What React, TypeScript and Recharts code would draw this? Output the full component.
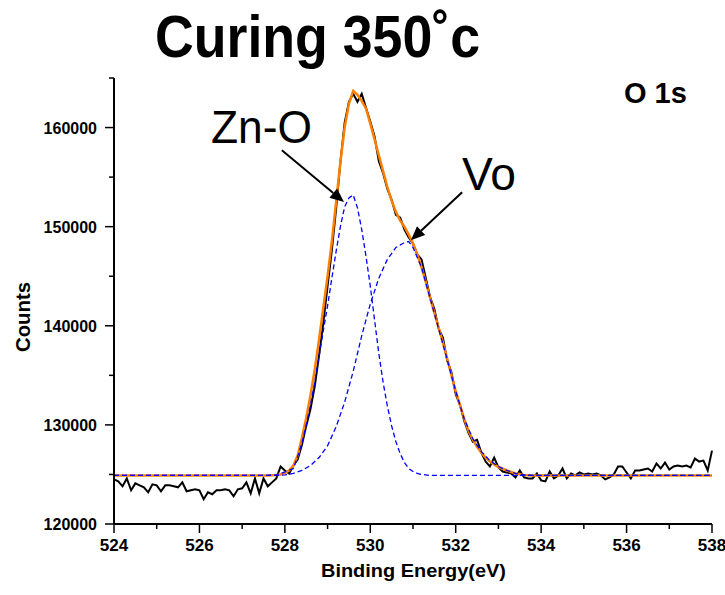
import { LineChart, Line, XAxis, YAxis, ReferenceLine } from "recharts";

const FONT = "'Liberation Sans', Arial, sans-serif";

// measured spectrum, one point every 0.1 eV from 524 to 538
const ENERGY_START = 524;
const ENERGY_STEP = 0.1;
const counts = [
  124500, 124300, 123800, 124600, 123400, 124100, 123900, 123700, 123200, 124000,
  123900, 123300, 123900, 123900, 123800, 123700, 124200, 123300, 123400, 123500,
  123400, 122500, 123200, 123000, 123400, 123400, 123500, 123400, 122800, 123500,
  123600, 124200, 123100, 124600, 123100, 124600, 123800, 124200, 124600, 125800,
  125400, 125100, 125900, 126500, 128000, 129900, 131600, 133900, 137000, 140300,
  144000, 147600, 151800, 156500, 160500, 162600, 163400, 162600, 163400, 162000,
  160600, 159100, 156600, 155400, 153800, 152700, 151200, 150900, 149700, 148900,
  148300, 147200, 146700, 144800, 142900, 141700, 139700, 138800, 136500, 135300,
  133100, 132000, 130400, 129200, 128300, 128500, 127200, 126300, 125800, 126700,
  125700, 125300, 125200, 125100, 124700, 125400, 124700, 124600, 124600, 125100,
  124400, 124300, 125300, 124600, 124900, 125600, 124600, 125100, 124900, 125200,
  125000, 125100, 125000, 125100, 124900, 124500, 124700, 125000, 125800, 125800,
  125200, 124600, 125400, 125400, 125500, 125600, 125300, 126100, 125600, 126200,
  125500, 125800, 125900, 125800, 125900, 125700, 126600, 126300, 126400, 125400,
  127400,
];

// fitted envelope [eV, counts]
const envelope: [number, number][] = [
  [524, 124900], [527.6, 124900], [527.8, 124950], [527.9, 125000], [528.0, 125150],
  [528.1, 125400], [528.2, 125900], [528.3, 126900], [528.4, 128700], [528.5, 130700],
  [528.6, 133000], [528.7, 135600], [528.8, 138600], [528.9, 141800], [529.0, 145000],
  [529.1, 148500], [529.2, 152500], [529.3, 156500], [529.4, 160000], [529.5, 162400],
  [529.6, 163700], [529.7, 163300], [529.8, 162700], [529.9, 161900], [530.0, 160400],
  [530.1, 158800], [530.2, 157200], [530.3, 155600], [530.4, 154000], [530.5, 152600],
  [530.6, 151500], [530.7, 150600], [530.8, 150000], [530.9, 149200], [531.0, 148300],
  [531.1, 147200], [531.2, 145900], [531.3, 144400], [531.4, 142800], [531.5, 141300],
  [531.6, 139800], [531.7, 138300], [531.8, 136700], [531.9, 135000], [532.0, 133400],
  [532.1, 132000], [532.2, 130600], [532.3, 129400], [532.4, 128500], [532.5, 127800],
  [532.6, 127200], [532.7, 126700], [532.8, 126300], [532.9, 126000], [533.0, 125750],
  [533.2, 125400], [533.4, 125100], [533.6, 124950], [533.8, 124900], [538, 124900],
];

// Zn-O component
const znO: [number, number][] = [
  [524, 124900], [527.6, 124900], [527.8, 124950], [528.0, 125250], [528.2, 125600],
  [528.3, 126800], [528.4, 128200], [528.5, 130000], [528.6, 132000], [528.7, 134300],
  [528.8, 136900], [528.9, 139500], [529.0, 142000], [529.1, 144800], [529.2, 147500],
  [529.3, 150000], [529.4, 152000], [529.5, 152900], [529.6, 153200], [529.7, 151900],
  [529.8, 149700], [529.9, 147000], [530.0, 144000], [530.1, 140600], [530.2, 137200],
  [530.3, 134300], [530.4, 131900], [530.5, 129900], [530.6, 128300], [530.7, 127100],
  [530.8, 126200], [530.9, 125600], [531.0, 125300], [531.1, 125100], [531.2, 125000],
  [531.4, 124900], [538, 124900],
];

// Vo (oxygen vacancy) component
const vo: [number, number][] = [
  [524, 124900], [527.8, 124900], [528.0, 124950], [528.2, 125100], [528.4, 125400],
  [528.6, 125900], [528.8, 126700], [529.0, 127900], [529.2, 129800], [529.4, 132300],
  [529.6, 135400], [529.8, 139000], [530.0, 142200], [530.2, 144800], [530.4, 146700],
  [530.6, 147900], [530.8, 148400], [530.9, 148500], [531.0, 147900], [531.2, 145900],
  [531.4, 142800], [531.6, 139700], [531.8, 136600], [532.0, 133400], [532.2, 130600],
  [532.4, 128600], [532.6, 127300], [532.8, 126400], [533.0, 125800], [533.2, 125400],
  [533.4, 125100], [533.6, 124950], [533.8, 124900], [538, 124900],
];

const X_TICKS = [524, 525, 526, 527, 528, 529, 530, 531, 532, 533, 534, 535, 536, 537, 538];
const Y_TICKS = [120000, 125000, 130000, 135000, 140000, 145000, 150000, 155000, 160000, 165000];

// arrow annotations: [tail, tip] in data coords
const ZNO_ARROW = [{ x: 527.93, y: 157700 }, { x: 529.385, y: 152490 }];
const VO_ARROW = [{ x: 532.15, y: 153470 }, { x: 530.95, y: 148630 }];

const key = (e: number) => e.toFixed(1);
const toMap = (pairs: [number, number][]) => new Map(pairs.map(([e, v]) => [key(e), v]));
const envMap = toMap(envelope);
const znoMap = toMap(znO);
const voMap = toMap(vo);

const data = counts.map((c, i) => {
  const e = Math.round((ENERGY_START + i * ENERGY_STEP) * 10) / 10;
  return {
    energy: e,
    counts: c,
    envelope: envMap.get(key(e)),
    zno: znoMap.get(key(e)),
    vo: voMap.get(key(e)),
  };
});

function XTick({ x, y, payload }: any) {
  const major = payload.value % 2 === 0;
  return (
    <g>
      <line x1={x} x2={x} y1={y} y2={y + (major ? 9 : 5)} stroke="#000" strokeWidth={1.5} />
      {major && (
        <text x={x} y={y + 27} textAnchor="middle" fontFamily={FONT} fontWeight="bold" fontSize={17} fill="#000">
          {payload.value}
        </text>
      )}
    </g>
  );
}

function YTick({ x, y, payload }: any) {
  const major = payload.value % 10000 === 0;
  return (
    <g>
      <line x1={x - (major ? 9 : 5)} x2={x} y1={y} y2={y} stroke="#000" strokeWidth={1.5} />
      {major && (
        <text x={x - 17} y={y + 6} textAnchor="end" fontFamily={FONT} fontWeight="bold" fontSize={16} fill="#000">
          {payload.value}
        </text>
      )}
    </g>
  );
}

function Arrow(props: any) {
  const { x1, y1, x2, y2 } = props;
  const ang = Math.atan2(y2 - y1, x2 - x1);
  const len = 14;
  const half = 6;
  const bx = x2 - len * Math.cos(ang);
  const by = y2 - len * Math.sin(ang);
  const px = -Math.sin(ang) * half;
  const py = Math.cos(ang) * half;
  return (
    <g>
      <line x1={x1} y1={y1} x2={bx} y2={by} stroke="#000" strokeWidth={2} />
      <polygon points={`${x2},${y2} ${bx + px},${by + py} ${bx - px},${by - py}`} fill="#000" />
    </g>
  );
}

export default function App() {
  return (
    <div style={{ position: "absolute", left: 0, top: 0, width: 725, height: 595, background: "#fff" }}>
      <LineChart width={725} height={595} data={data} margin={{ top: 78, right: 13, bottom: 0, left: 0 }}>
        <XAxis
          dataKey="energy"
          type="number"
          domain={[524, 538]}
          ticks={X_TICKS}
          height={71}
          tickSize={0}
          tickMargin={0}
          tickLine={false}
          tick={<XTick />}
          axisLine={{ stroke: "#000", strokeWidth: 2 }}
          interval={0}
        />
        <YAxis
          type="number"
          domain={[120000, 165000]}
          ticks={Y_TICKS}
          width={114}
          tickSize={0}
          tickMargin={0}
          tickLine={false}
          tick={<YTick />}
          axisLine={{ stroke: "#000", strokeWidth: 2 }}
          interval={0}
          allowDataOverflow
        />
        <Line dataKey="counts" stroke="#000" strokeWidth={2} dot={false} isAnimationActive={false} type="linear" />
        <Line dataKey="envelope" stroke="#FF8000" strokeWidth={2.5} dot={false} isAnimationActive={false} connectNulls type="linear" />
        <Line dataKey="zno" stroke="#0000FF" strokeWidth={1.3} strokeDasharray="5 3" dot={false} isAnimationActive={false} connectNulls type="linear" />
        <Line dataKey="vo" stroke="#0000FF" strokeWidth={1.3} strokeDasharray="5 3" dot={false} isAnimationActive={false} connectNulls type="linear" />
        <ReferenceLine segment={ZNO_ARROW} shape={Arrow} />
        <ReferenceLine segment={VO_ARROW} shape={Arrow} />
      </LineChart>
      <svg width={725} height={595} style={{ position: "absolute", left: 0, top: 0, pointerEvents: "none" }}>
        <text x={155} y={57} fontFamily={FONT} fontWeight="bold" fontSize={60} textLength={325} lengthAdjust="spacingAndGlyphs" fill="#000">
          Curing 350˚c
        </text>
        <text x={624} y={103} fontFamily={FONT} fontWeight="bold" fontSize={29} fill="#000">
          O 1s
        </text>
        <text x={211} y={143} fontFamily={FONT} fontSize={46} textLength={101} lengthAdjust="spacingAndGlyphs" fill="#000">
          Zn-O
        </text>
        <text x={462} y={190} fontFamily={FONT} fontSize={46} textLength={54} lengthAdjust="spacingAndGlyphs" fill="#000">
          Vo
        </text>
        <text
          x={0}
          y={0}
          transform="translate(30 317) rotate(-90)"
          textAnchor="middle"
          fontFamily={FONT}
          fontWeight="bold"
          fontSize={20}
          textLength={70}
          lengthAdjust="spacingAndGlyphs"
          fill="#000"
        >
          Counts
        </text>
        <text x={321} y={577} fontFamily={FONT} fontWeight="bold" fontSize={18} textLength={185} lengthAdjust="spacingAndGlyphs" fill="#000">
          Binding Energy(eV)
        </text>
      </svg>
    </div>
  );
}
